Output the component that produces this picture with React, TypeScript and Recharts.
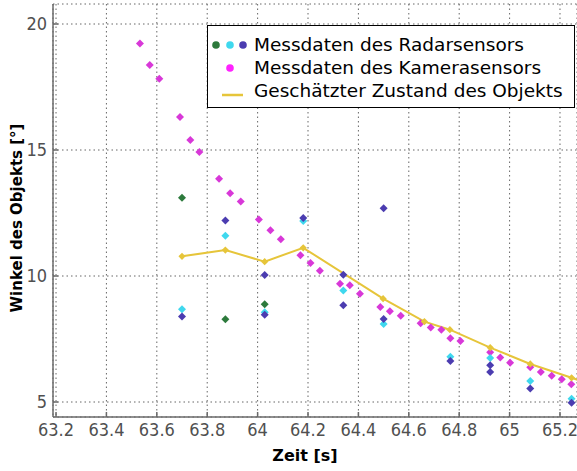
import React from 'react';
import { ComposedChart, Scatter, Line, XAxis, YAxis, CartesianGrid, Legend } from 'recharts';

const xTicks = [63.2, 63.4, 63.6, 63.8, 64, 64.2, 64.4, 64.6, 64.8, 65, 65.2];
const yTicks = [5, 10, 15, 20];

// Kamera (magenta)
const cameraTime = [63.533, 63.572, 63.61, 63.692, 63.733, 63.769, 63.847, 63.891, 63.933, 64.005, 64.051, 64.092, 64.17, 64.21, 64.247, 64.327, 64.366, 64.406, 64.487, 64.525, 64.568, 64.647, 64.687, 64.729, 64.765, 64.805, 64.923, 64.963, 65.002, 65.082, 65.124, 65.167, 65.207, 65.245];
const cameraAngle = [19.23, 18.37, 17.83, 16.31, 15.4, 14.92, 13.86, 13.28, 12.96, 12.24, 11.82, 11.46, 10.82, 10.52, 10.21, 9.69, 9.63, 9.3, 8.77, 8.6, 8.42, 8.13, 7.96, 7.87, 7.53, 7.42, 6.97, 6.77, 6.56, 6.38, 6.19, 6.04, 5.9, 5.7];

// Radar, drei Farben
const radarGreenTime = [63.7, 63.872, 64.028];
const radarGreenAngle = [13.11, 8.28, 8.88];
const radarCyanTime = [63.7, 63.872, 64.028, 64.181, 64.34, 64.5, 64.765, 64.923, 65.082, 65.246];
const radarCyanAngle = [8.68, 11.6, 8.56, 12.18, 9.42, 8.1, 6.8, 6.75, 5.83, 5.13];
const radarBlueTime = [63.7, 63.872, 64.028, 64.028, 64.181, 64.34, 64.34, 64.5, 64.5, 64.765, 64.923, 64.923, 65.082, 65.246];
const radarBlueAngle = [8.39, 12.2, 10.04, 8.46, 12.3, 10.05, 8.84, 12.69, 8.29, 6.63, 6.46, 6.19, 5.54, 4.97];

// geschätzter Zustand
const estTime = [63.7, 63.872, 64.028, 64.181, 64.498, 64.662, 64.763, 64.923, 65.082, 65.246, 65.4];
const estAngle = [10.78, 11.03, 10.57, 11.12, 9.1, 8.19, 7.87, 7.16, 6.51, 5.96, 5.45];

const legendLabels = [
  'Messdaten des Radarsensors',
  'Messdaten des Kamerasensors',
  'Geschätzter Zustand des Objekts',
];

const MAGENTA = '#d838d8';
const BLUE = '#4b3cb0';
const CYAN = '#3fd8ee';
const GREEN = '#2d7a3c';
const YELLOW = '#e6c53a';
const AXIS = '#6a6a6a';

const W = 577;
const H = 471;
const PLOT_LEFT = 53;
const PLOT_TOP = 4;
const PLOT_BOTTOM = 417;

const TICK_FONT = '"Liberation Sans Narrow", "DejaVu Sans Condensed", "Liberation Sans", sans-serif';
const TEXT_FONT = '"DejaVu Sans", sans-serif';

const zip = (t: number[], v: number[]) => t.map((x, i) => ({ t: x, v: v[i] }));
const fmt = (v: number) => String(Math.round(v * 10) / 10);

const diamond = (color: string, r = 4) => (p: any) => (
  <path
    d={`M${p.cx},${p.cy - r}L${p.cx + r},${p.cy}L${p.cx},${p.cy + r}L${p.cx - r},${p.cy}Z`}
    fill={color}
  />
);

const BottomTick = (props: any) => {
  const { x, payload } = props;
  return (
    <g>
      <line x1={x} x2={x} y1={PLOT_BOTTOM} y2={PLOT_BOTTOM - 5} stroke={AXIS} strokeWidth={1.5} />
      <text x={x} y={PLOT_BOTTOM + 19} textAnchor="middle" fontFamily={TICK_FONT} fontSize={18} fill="#505050">
        {fmt(payload.value)}
      </text>
    </g>
  );
};

const TopTick = (props: any) => {
  const { x } = props;
  return <line x1={x} x2={x} y1={PLOT_TOP} y2={PLOT_TOP + 5} stroke={AXIS} strokeWidth={1.5} />;
};

const LeftTick = (props: any) => {
  const { y, payload } = props;
  return (
    <g>
      <line x1={PLOT_LEFT} x2={PLOT_LEFT + 5} y1={y} y2={y} stroke={AXIS} strokeWidth={1.5} />
      <text x={PLOT_LEFT - 6} y={y + 6} textAnchor="end" fontFamily={TICK_FONT} fontSize={18} fill="#505050">
        {fmt(payload.value)}
      </text>
    </g>
  );
};

const YTitle = () => (
  <text
    x={17}
    y={218}
    transform="rotate(-90, 17, 218)"
    textAnchor="middle"
    dominantBaseline="central"
    fontFamily={TEXT_FONT}
    fontSize={15}
    fontWeight="bold"
    fill="#000"
  >
    Winkel des Objekts [°]
  </text>
);

const renderLegend = () => (
  <svg width={368} height={83} style={{ display: 'block' }}>
    <rect x={0.5} y={0.5} width={367} height={82} fill="#fff" stroke="#000" />
    <circle cx={9} cy={20} r={3.8} fill={GREEN} />
    <circle cx={23} cy={20} r={3.8} fill={CYAN} />
    <circle cx={36} cy={20} r={3.8} fill={BLUE} />
    <circle cx={23} cy={43} r={3.8} fill="#ff22ff" />
    <line x1={15} x2={36} y1={70} y2={70} stroke={YELLOW} strokeWidth={2.5} />
    {legendLabels.map((label, i) => (
      <text key={label} x={47} y={26 + i * 23} fontFamily={TEXT_FONT} fontSize={18.5} fill="#000">
        {label}
      </text>
    ))}
  </svg>
);

export default function App() {
  return (
    <div style={{ position: 'absolute', left: 0, top: 0, width: W, height: H, background: '#fff' }}>
      <ComposedChart width={W} height={H} margin={{ top: PLOT_TOP, right: 0, bottom: 0, left: 0 }}>
        <CartesianGrid stroke="#666" strokeDasharray="1.5 3" />
        <XAxis
          xAxisId={0}
          type="number"
          dataKey="t"
          domain={[63.188, 65.2675]}
          ticks={xTicks}
          allowDataOverflow
          height={H - PLOT_BOTTOM}
          tickLine={false}
          tickSize={0}
          tick={<BottomTick />}
          axisLine={{ stroke: AXIS, strokeWidth: 1.5 }}
        />
        <XAxis
          xAxisId="top"
          orientation="top"
          type="number"
          dataKey="t"
          domain={[63.188, 65.2675]}
          ticks={xTicks}
          allowDataOverflow
          height={0}
          tickLine={false}
          tickSize={0}
          tick={<TopTick />}
          axisLine={{ stroke: AXIS, strokeWidth: 1.5 }}
        />
        <YAxis
          type="number"
          dataKey="v"
          domain={[4.405, 20.794]}
          ticks={yTicks}
          allowDataOverflow
          width={PLOT_LEFT}
          tickLine={false}
          tickSize={0}
          tick={<LeftTick />}
          axisLine={{ stroke: AXIS, strokeWidth: 1.5 }}
          label={{ content: () => <YTitle /> }}
        />
        <Legend
          layout="vertical"
          align="center"
          verticalAlign="middle"
          content={renderLegend}
          wrapperStyle={{ position: 'absolute', left: 207, top: 25, width: 368, height: 83 }}
        />
        <Scatter data={zip(cameraTime, cameraAngle)} shape={diamond(MAGENTA)} isAnimationActive={false} />
        <Scatter data={zip(radarGreenTime, radarGreenAngle)} shape={diamond(GREEN)} isAnimationActive={false} />
        <Scatter data={zip(radarCyanTime, radarCyanAngle)} shape={diamond(CYAN)} isAnimationActive={false} />
        <Scatter data={zip(radarBlueTime, radarBlueAngle)} shape={diamond(BLUE)} isAnimationActive={false} />
        <Line
          data={zip(estTime, estAngle)}
          dataKey="v"
          type="linear"
          stroke={YELLOW}
          strokeWidth={2}
          dot={diamond(YELLOW, 3.6)}
          isAnimationActive={false}
        />
      </ComposedChart>
      <div
        style={{
          position: 'absolute',
          left: 0,
          width: 610,
          top: 446,
          textAlign: 'center',
          fontFamily: TEXT_FONT,
          fontSize: 16,
          fontWeight: 'bold',
          lineHeight: '20px',
        }}
      >
        Zeit [s]
      </div>
    </div>
  );
}
